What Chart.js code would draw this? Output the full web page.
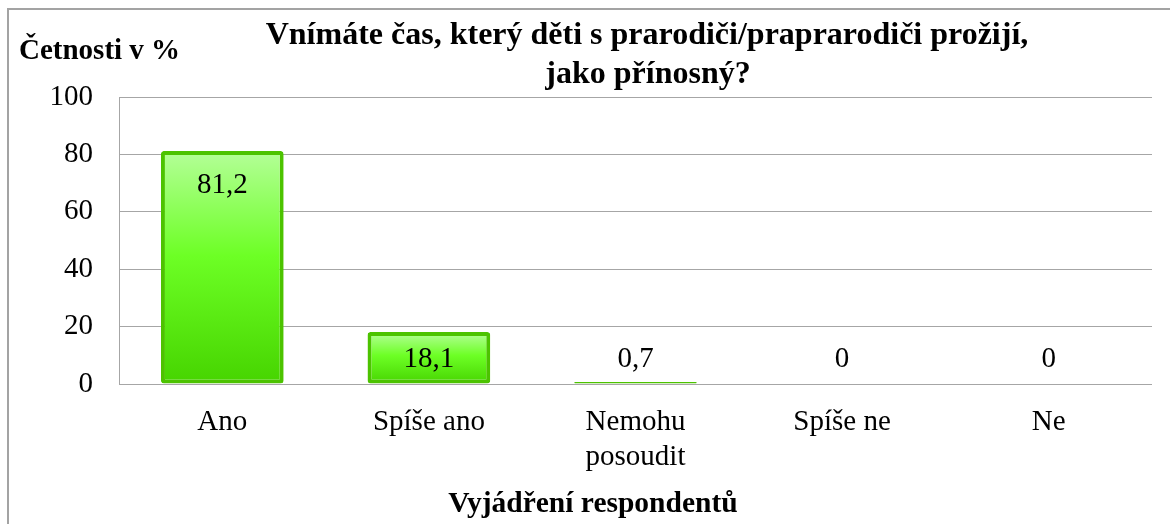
<!DOCTYPE html>
<html>
<head>
<meta charset="utf-8">
<script src="https://cdn.jsdelivr.net/npm/chart.js@4"></script>
<style>
  html, body { margin: 0; padding: 0; background: #fff; }
</style>
</head>
<body>
<canvas id="chart" width="1170" height="524"></canvas>
<script>
// data
const categories = ['Ano', 'Spíše ano', ['Nemohu', 'posoudit'], 'Spíše ne', 'Ne'];
const values = [81.2, 18.1, 0.7, 0, 0];
const valueLabels = ['81,2', '18,1', '0,7', '0', '0'];
const yMin = 0, yMax = 100, yStep = 20;
const titleLines = ['Vnímáte čas, který děti s prarodiči/praprarodiči prožijí,', 'jako přínosný?'];
const yTitle = 'Četnosti v %';
const xTitle = 'Vyjádření respondentů';

const FONT = '"Liberation Serif", "Times New Roman", serif';

// gradient per bar, light at the top
function barFill(ctx) {
  const chart = ctx.chart;
  const y = chart.scales.y;
  if (ctx.type !== 'data' || !chart.chartArea || !y) return '#6dff25';
  const top = y.getPixelForValue(ctx.raw);
  const base = y.getPixelForValue(0);
  if (base - top < 1) return '#5be81a';
  const g = chart.ctx.createLinearGradient(0, top, 0, base);
  g.addColorStop(0, '#b4ff98');
  g.addColorStop(0.45, '#6dff25');
  g.addColorStop(1, '#46d400');
  return g;
}

const decor = {
  id: 'decor',
  beforeDraw(chart) {
    const c = chart.ctx;
    c.save();
    c.fillStyle = '#fff';
    c.fillRect(0, 0, chart.width, chart.height);
    c.strokeStyle = '#a3a3a3';
    c.lineWidth = 2;
    c.strokeRect(8, 9, 1300, 700);
    c.restore();
  },
  afterDatasetsDraw(chart) {
    const c = chart.ctx;
    const meta = chart.getDatasetMeta(0);
    c.save();
    c.fillStyle = '#000';
    c.textAlign = 'center';
    c.textBaseline = 'alphabetic';
    c.font = '29px ' + FONT;
    meta.data.forEach((bar, i) => {
      const cy = Math.min(bar.y + 32, bar.base - 27);
      c.fillText(valueLabels[i], bar.x, cy + 10);
    });
    c.restore();
  },
  afterDraw(chart) {
    const c = chart.ctx;
    c.save();
    c.fillStyle = '#000';
    c.textBaseline = 'alphabetic';
    c.textAlign = 'center';
    c.font = 'bold 32px ' + FONT;
    c.fillText(titleLines[0], 647, 44);
    c.fillText(titleLines[1], 648, 83);
    c.font = 'bold 29.5px ' + FONT;
    c.fillText(xTitle, 593, 512);
    c.textAlign = 'left';
    c.font = 'bold 29px ' + FONT;
    c.fillText(yTitle, 19, 59);
    c.restore();
  }
};

new Chart(document.getElementById('chart'), {
  type: 'bar',
  data: {
    labels: categories,
    datasets: [{
      data: values,
      backgroundColor: barFill,
      borderColor: '#4cc300',
      borderWidth: 4,
      borderRadius: 3,
      borderSkipped: false,
      barPercentage: 0.594,
      categoryPercentage: 1
    }]
  },
  options: {
    responsive: false,
    animation: false,
    layout: { padding: { top: 97, right: 18, bottom: 0, left: 0 } },
    plugins: {
      legend: { display: false },
      title: { display: false },
      tooltip: { enabled: false }
    },
    scales: {
      x: {
        grid: { display: false, drawTicks: false },
        border: { display: false },
        ticks: {
          color: '#000',
          padding: 21,
          font: { family: FONT, size: 29, lineHeight: 1.2 },
          maxRotation: 0
        },
        afterFit: s => { s.height = 140; }
      },
      y: {
        min: yMin,
        max: yMax,
        ticks: {
          stepSize: yStep,
          color: '#000',
          padding: 26,
          font: { family: FONT, size: 29 }
        },
        grid: { color: '#a6a6a6', lineWidth: 1, drawTicks: false },
        border: { color: '#a6a6a6', width: 1 },
        afterFit: s => { s.width = 119; }
      }
    }
  },
  plugins: [decor]
});
</script>
</body>
</html>
